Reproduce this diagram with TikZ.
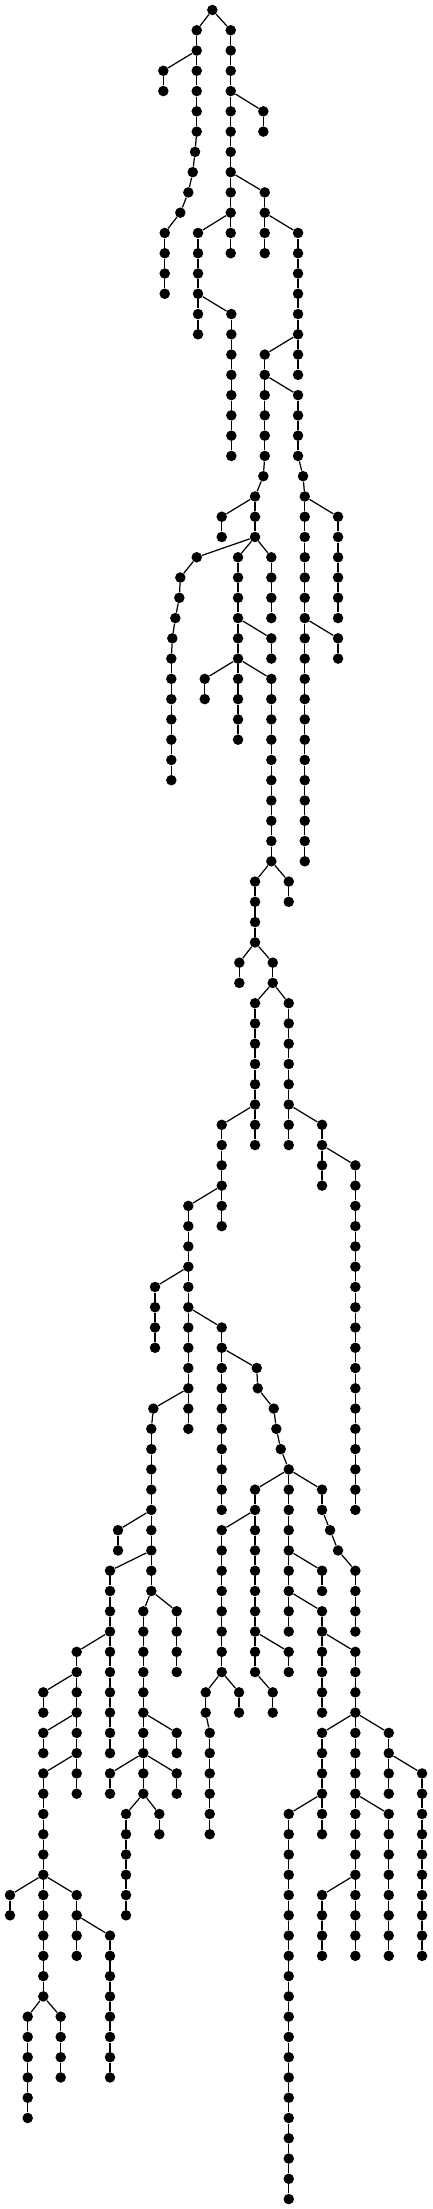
\documentclass[tikz,border=0pt]{standalone}
\tikzset{
    dot/.style={circle, fill=black, inner sep=0pt, minimum size=0.21cm},
    link/.style={line width=0.7pt}
}
\begin{document}
\begin{tikzpicture}[x=0.02cm, y=-0.4054cm]
    \useasboundingbox (0,-0.4934) rectangle (432,108.49);
    % vertical runs: name/x/first level/last level
    \foreach \nm/\xp/\lo/\hi in {
        a/196.7/1/6, ab/164.7/11/14, b/163.3/3/4, c/230.7/1/12, d/263.3/5/6,
        e/264.7/9/12, f/198/11/16, g/298/11/18, h/231.3/15/22, i/264.7/17/22,
        k/298/19/22, m/304.7/24/42, n/338/25/30, o/338/31/32, j/255/24/26,
        p/221.7/25/26, q/171.3/32/38, s/238/27/36, t/271.3/27/30, u/271.3/31/32,
        v/204.7/33/34, w/271.3/33/42, xa/255/43/46, y/288.7/43/44, z/239.3/47/48,
        aa/272.7/47/48, bb/255/49/56, cc/288.7/49/56, dd/221.7/55/60, jj/322/55/58,
        kk/355.3/57/74, ee/188.3/59/70, ff/155/63/66, gg/221.7/65/74, hh/151.3/70/78,
        mm/255/73/82, nn/288.7/73/80, oo/322/73/74, pp/355.3/77/80, qq/118/75/76,
        rr/110/77/86, ss/143.3/79/88, tt/176.7/79/82, uu/76.7/81/88, vv/43.3/83/84,
        ww/43.3/85/86, xx/43.3/87/98, yy/10/93/94, zz/76.7/93/96, aaa/27.7/99/104,
        bbb/60.7/99/102, ccc/110/95/102, ddd/176.7/85/86, eee/110/87/88, fff/176.7/87/88,
        ggg/126/89/94, hhh/159.3/89/90, iii/221.7/75/82, jjj/288.7/81/82, kkk/272.7/83/84,
        lll/205.7/83/84, mmm/209.7/85/90, nnn/239/83/84, ooo/322/77/78, ppp/322/79/84,
        qqq/355.3/81/96, rrr/322/85/90, sss/388.7/85/88, ttt/388.7/89/96, uuu/322/93/96,
        vvv/288.7/89/108, www/422/87/96%
    }{
        \foreach \lv in {\lo,...,\hi}
            \node[dot] (\nm-\lv) at (\xp,\lv) {};
        \pgfmathtruncatemacro\nx{\lo+1}
        \foreach \lv [evaluate=\lv as \pv using int(\lv-1)] in {\nx,...,\hi}
            \draw[link] (\nm-\pv) -- (\nm-\lv);
    }
    % single nodes
    \foreach \nm/\xp/\lv in {
        r/212.3/0, a7/195/7, a8/192.7/8, a9/188.3/9, a10/180.3/10,
        i23/263.3/23, k23/303/23,
        q27/196.7/27, q28/180.3/28, q29/179.3/29, q30/175.3/30, q31/172.3/31,
        hh69/153.3/69,
        ll67/256.7/67, ll68/257.7/68, ll69/273.7/69, ll70/276.3/70, ll71/280.7/71, ll72/288.7/72,
        oo75/330/75, oo76/338/76%
    }
        \node[dot] (\nm) at (\xp,\lv) {};
    % links between runs
    \foreach \u/\v in {
        r/a-1, r/c-1, a-6/a7, a7/a8, a8/a9, a9/a10, a10/ab-11, a-2/b-3,
        c-4/d-5, c-8/e-9, c-10/f-11, e-10/g-11, f-14/h-15, g-16/i-17, i-18/k-19,
        i-22/i23, i23/j-24, k-22/k23, k23/m-24, m-24/n-25, m-30/o-31, j-24/p-25,
        j-26/q27, q27/q28, q28/q29, q29/q30, q30/q31, q31/q-32, j-26/s-27, j-26/t-27,
        s-30/u-31, s-32/v-33, s-32/w-33, w-42/xa-43, w-42/y-43, xa-46/z-47, xa-46/aa-47,
        aa-48/bb-49, aa-48/cc-49, bb-54/dd-55, cc-54/jj-55, jj-56/kk-57, dd-58/ee-59,
        ee-62/ff-63, ee-64/gg-65, ee-68/hh69, hh69/hh-70,
        gg-66/ll67, ll67/ll68, ll68/ll69, ll69/ll70, ll70/ll71, ll71/ll72,
        ll72/mm-73, ll72/nn-73, ll72/oo-73, oo-74/oo75, oo75/oo76, oo76/pp-77,
        hh-74/qq-75, hh-76/rr-77, hh-78/ss-79, hh-78/tt-79, rr-80/uu-81,
        uu-82/vv-83, uu-84/ww-85, uu-86/xx-87, xx-92/yy-93, xx-92/zz-93,
        xx-98/aaa-99, xx-98/bbb-99, zz-94/ccc-95, ss-84/ddd-85, ss-86/eee-87,
        ss-86/fff-87, ss-88/ggg-89, ss-88/hhh-89, mm-74/iii-75, mm-80/jjj-81,
        mm-82/kkk-83, iii-82/lll-83, iii-82/nnn-83, lll-84/mmm-85, nn-76/ooo-77,
        nn-78/ppp-79, ppp-80/qqq-81, qqq-84/rrr-85, qqq-84/sss-85, qqq-88/ttt-89,
        qqq-92/uuu-93, rrr-88/vvv-89, sss-86/www-87%
    }
        \draw[link] (\u) -- (\v);
\end{tikzpicture}
\end{document}
